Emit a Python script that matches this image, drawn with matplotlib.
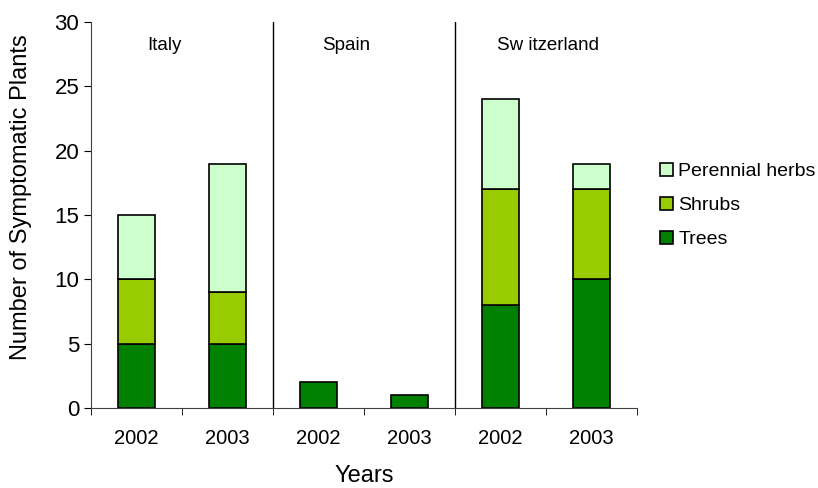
import matplotlib.pyplot as plt
import numpy as np

plt.rcParams['font.family'] = ['Liberation Sans', 'DejaVu Sans']

countries = ['Italy', 'Spain', 'Sw itzerland']
years = ['2002', '2003', '2002', '2003', '2002', '2003']
trees = [5, 5, 2, 1, 8, 10]
shrubs = [5, 4, 0, 0, 9, 7]
herbs = [5, 10, 0, 0, 7, 2]

col_trees = '#008000'
col_shrubs = '#99CC00'
col_herbs = '#CCFFCC'

fig = plt.figure(figsize=(8.18, 4.88), dpi=100)
ax = fig.add_axes([0.1112, 0.1639, 0.6675, 0.7910])

x = np.arange(len(years))
w = 0.4
trees = np.array(trees)
shrubs = np.array(shrubs)
herbs = np.array(herbs)

b1 = ax.bar(x, trees, w, color=col_trees, edgecolor='black', linewidth=1.2, label='Trees')
m = shrubs > 0
b2 = ax.bar(x[m], shrubs[m], w, bottom=trees[m], color=col_shrubs, edgecolor='black',
            linewidth=1.2, label='Shrubs')
m = herbs > 0
b3 = ax.bar(x[m], herbs[m], w, bottom=(trees + shrubs)[m], color=col_herbs,
            edgecolor='black', linewidth=1.2, label='Perennial herbs')

# separators between countries
for sx in [1.5, 3.5]:
    ax.axvline(sx, color='black', linewidth=1)

# label positions as in the original (not exactly centred)
for name, lx in zip(countries, [0.115, 2.04, 3.96]):
    ax.text(lx, 28.2, name, fontsize=13.5, ha='left', va='center')

ax.set_xlim(-0.5, 5.5)
ax.set_ylim(0, 30)
ax.set_yticks(np.arange(0, 31, 5))
ax.set_xticks(x)
ax.set_xticklabels(years)
ax.set_xticks(np.arange(-0.5, 6, 1), minor=True)
ax.tick_params(axis='x', which='major', length=0, pad=15, labelsize=14.5)
ax.tick_params(axis='x', which='minor', length=5, direction='out')
ax.tick_params(axis='y', length=5, direction='out', labelsize=16)

ax.spines['top'].set_visible(False)
ax.spines['right'].set_visible(False)
ax.spines['left'].set_color('#404040')
ax.spines['bottom'].set_color('#404040')

ax.set_xlabel('Years', fontsize=17)
ax.xaxis.set_label_coords(0.5, -0.147)
ax.set_ylabel('Number of Symptomatic Plants', fontsize=17)
ax.yaxis.set_label_coords(-0.108, 0.547)

ax.legend(handles=[b3, b2, b1], loc='center left', bbox_to_anchor=(1.01, 0.525),
          frameon=False, fontsize=14, handlelength=0.65, handleheight=0.65,
          handletextpad=0.3, labelspacing=0.85)

plt.savefig('out.png', dpi=100)
